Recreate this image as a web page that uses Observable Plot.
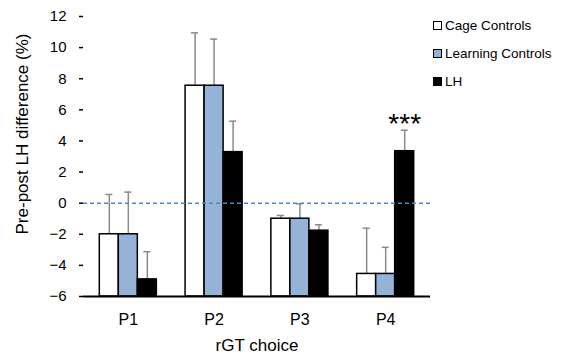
<!DOCTYPE html>
<html>
<head>
<meta charset="utf-8">
<script src="https://cdn.jsdelivr.net/npm/d3@7"></script>
<script src="https://cdn.jsdelivr.net/npm/@observablehq/plot@0.6"></script>
<style>
  body { margin: 0; background: #fff; }
  #wrap { position: relative; width: 561px; height: 356px; font-family: "Liberation Sans", Arial, sans-serif; }
  #legend { position: absolute; left: 433px; top: 0; font-family: "Liberation Sans", Arial, sans-serif; font-size: 13.5px; color: #000; }
  .item { position: absolute; left: 0; white-space: nowrap; display: flex; align-items: center; }
  .sw { width: 7px; height: 7px; border: 1.5px solid #000; margin-right: 3px; }
</style>
</head>
<body>
<div id="wrap"><div id="legend"></div></div>
<script>
const categories = ["P1", "P2", "P3", "P4"];
const series = ["Cage Controls", "Learning Controls", "LH"];
const colors = ["#ffffff", "#95b3d7", "#000000"];
const cage = [-2.0, 7.55, -1.0, -4.55];
const cageErr = [2.56, 3.4, 0.21, 2.94];
const learning = [-2.0, 7.55, -1.0, -4.55];
const learningErr = [2.71, 3.0, 0.96, 1.71];
const lh = [-4.9, 3.28, -1.77, 3.34];
const lhErr = [1.78, 1.99, 0.38, 1.35];
const yTicks = [-6, -4, -2, 0, 2, 4, 6, 8, 10, 12];
const sigLabel = "***";
const sigCategory = "P4";
const xLabel = "rGT choice";
const yLabel = "Pre-post LH difference (%)";

const W = 561, H = 356;
const mL = 83, mR = 131, mT = 16, mB = 60;
const padIn = 0.335, padOut = 0.19;
const band = d3.scaleBand(categories, [mL, W - mR]).paddingInner(padIn).paddingOuter(padOut);
const bw = band.bandwidth();
const sub = bw / 3;
const cap = 7;
const base = yTicks[0];

const values = [cage, learning, lh];
const errs = [cageErr, learningErr, lhErr];
const rows = [];
series.forEach((s, k) => categories.forEach((c, i) => rows.push({
  k, series: s, category: c, value: values[k][i], top: values[k][i] + errs[k][i]
})));

const marks = [];
series.forEach((s, k) => {
  const d = rows.filter(r => r.k === k);
  marks.push(Plot.ruleX(d, {x: "category", y1: "value", y2: "top", dx: (k - 1) * sub, stroke: "#8a8a8a", strokeWidth: 1.5}));
  marks.push(Plot.tickY(d, {x: "category", y: "top", stroke: "#8a8a8a", strokeWidth: 1.5,
    insetLeft: k * sub + (sub - cap) / 2, insetRight: (2 - k) * sub + (sub - cap) / 2}));
  marks.push(Plot.barY(d, {x: "category", y1: base, y2: "value", fill: colors[k], stroke: "#000", strokeWidth: 1.5,
    insetLeft: k * sub, insetRight: (2 - k) * sub}));
});

const sigRow = rows.filter(r => r.series === "LH" && r.category === sigCategory);
marks.push(Plot.text(sigRow, {x: "category", y: "top", text: () => sigLabel, dx: sub, dy: 3, lineAnchor: "bottom",
  fontSize: 28, fill: "#000"}));

marks.push(Plot.ruleY([0], {stroke: "#4f86c6", strokeWidth: 1.5, strokeDasharray: "4,3"}));
marks.push(Plot.ruleY([base], {stroke: "#000", strokeWidth: 2}));
marks.push(Plot.axisY({ticks: yTicks, tickSize: 4, tickPadding: 13, fontSize: 15, label: null, line: true, strokeWidth: 1.5}));
marks.push(Plot.axisX({tickSize: 0, tickPadding: 17, fontSize: 16, label: null}));
marks.push(Plot.text([xLabel], {frameAnchor: "bottom", dy: 49, lineAnchor: "middle", fontSize: 17, text: d => d}));
marks.push(Plot.text([yLabel], {frameAnchor: "left", textAnchor: "middle", rotate: -90, dx: -56, dy: -22.5, lineAnchor: "bottom", fontSize: 17, text: d => d}));

const chart = Plot.plot({
  width: W, height: H,
  marginLeft: mL, marginRight: mR, marginTop: mT, marginBottom: mB,
  style: {fontFamily: "'Liberation Sans', Arial, sans-serif", color: "#000", background: "#fff"},
  x: {domain: categories, paddingInner: padIn, paddingOuter: padOut, round: false, axis: null},
  y: {domain: [yTicks[0], yTicks[yTicks.length - 1]], axis: null},
  marks
});
document.getElementById("wrap").prepend(chart);

const legend = document.getElementById("legend");
const legendY = [25, 53, 81];
series.forEach((s, k) => {
  const it = document.createElement("div");
  it.className = "item";
  it.style.top = (legendY[k] - 9) + "px";
  it.style.height = "18px";
  const sw = document.createElement("span");
  sw.className = "sw";
  sw.style.background = colors[k];
  const t = document.createElement("span");
  t.textContent = s;
  it.appendChild(sw); it.appendChild(t);
  legend.appendChild(it);
});
</script>
</body>
</html>
